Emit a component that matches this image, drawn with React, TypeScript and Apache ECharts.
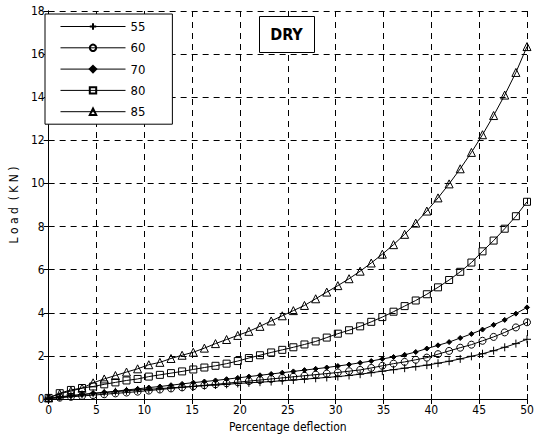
import React, { useEffect, useRef } from "react";
import * as echarts from "echarts";

const X = [0, 1.16, 2.33, 3.49, 4.65, 5.81, 6.98, 8.14, 9.3, 10.47, 11.63, 12.79, 13.95, 15.12, 16.28, 17.44, 18.6, 19.77, 20.93, 22.09, 23.26, 24.42, 25.58, 26.74, 27.91, 29.07, 30.23, 31.4, 32.56, 33.72, 34.88, 36.05, 37.21, 38.37, 39.53, 40.7, 41.86, 43.02, 44.19, 45.35, 46.51, 47.67, 48.84, 50];

const S55 = [0.03, 0.1, 0.16, 0.21, 0.26, 0.3, 0.34, 0.38, 0.42, 0.45, 0.48, 0.52, 0.55, 0.58, 0.62, 0.65, 0.68, 0.72, 0.75, 0.78, 0.81, 0.85, 0.88, 0.92, 0.96, 1.0, 1.04, 1.09, 1.15, 1.22, 1.29, 1.36, 1.43, 1.5, 1.57, 1.66, 1.75, 1.86, 1.98, 2.1, 2.24, 2.4, 2.57, 2.77];
const S60 = [0.02, 0.06, 0.1, 0.14, 0.18, 0.22, 0.26, 0.3, 0.34, 0.39, 0.44, 0.49, 0.54, 0.59, 0.64, 0.68, 0.73, 0.78, 0.83, 0.88, 0.93, 0.98, 1.03, 1.08, 1.13, 1.18, 1.23, 1.29, 1.35, 1.44, 1.54, 1.64, 1.72, 1.82, 1.92, 2.08, 2.23, 2.38, 2.52, 2.7, 2.88, 3.09, 3.32, 3.56];
const S70 = [0.02, 0.08, 0.14, 0.2, 0.26, 0.31, 0.36, 0.42, 0.47, 0.53, 0.58, 0.64, 0.7, 0.76, 0.81, 0.86, 0.92, 0.98, 1.04, 1.1, 1.16, 1.22, 1.28, 1.34, 1.4, 1.46, 1.53, 1.6, 1.68, 1.76, 1.86, 1.95, 2.05, 2.18, 2.34, 2.49, 2.64, 2.83, 3.02, 3.22, 3.44, 3.67, 3.96, 4.25];
const S80 = [0.05, 0.27, 0.42, 0.51, 0.58, 0.68, 0.77, 0.86, 0.93, 1.04, 1.12, 1.2, 1.28, 1.37, 1.46, 1.54, 1.64, 1.76, 1.9, 2.03, 2.16, 2.28, 2.4, 2.53, 2.67, 2.85, 3.03, 3.19, 3.37, 3.58, 3.8, 4.05, 4.31, 4.57, 4.86, 5.18, 5.52, 5.9, 6.33, 6.85, 7.35, 7.9, 8.48, 9.15];
const S85 = [0.05, 0.24, 0.37, 0.5, 0.75, 0.93, 1.09, 1.25, 1.4, 1.59, 1.7, 1.88, 2.03, 2.17, 2.36, 2.57, 2.76, 2.95, 3.14, 3.37, 3.62, 3.86, 4.1, 4.34, 4.65, 4.96, 5.26, 5.58, 5.93, 6.31, 6.72, 7.16, 7.64, 8.16, 8.72, 9.33, 9.98, 10.68, 11.44, 12.26, 13.15, 14.1, 15.15, 16.35];

const SERIES_NAMES = ["55", "60", "70", "80", "85"];
const SERIES_VALUES = [S55, S60, S70, S80, S85];

const FONT = "'Liberation Sans Narrow', 'Arial Narrow', 'DejaVu Sans Condensed', 'Liberation Sans', Arial, sans-serif";

export default function App() {
  const ref = useRef<HTMLDivElement>(null);
  useEffect(() => {
    document.body.style.margin = "0";
    if (!ref.current) return;
    const chart = echarts.init(ref.current, undefined, { renderer: "svg" });
    const symbols = [
      { symbol: "path://M5,0L5,10M0,5L10,5", size: 8, fill: "rgba(0,0,0,0)" },
      { symbol: "circle", size: 7, fill: "rgba(0,0,0,0)" },
      { symbol: "diamond", size: 5, fill: "#000" },
      { symbol: "rect", size: 7, fill: "rgba(0,0,0,0)" },
      { symbol: "triangle", size: 8, fill: "rgba(0,0,0,0)" },
    ];
    const series = SERIES_NAMES.map((name, i) => ({
      name,
      type: "line",
      data: X.map((x, j) => [x, SERIES_VALUES[i][j]]),
      symbol: symbols[i].symbol,
      symbolSize: symbols[i].size,
      showAllSymbol: true,
      lineStyle: { color: "#000", width: 1 },
      itemStyle: { color: symbols[i].fill, borderColor: "#000", borderWidth: 1 },
      emphasis: { disabled: true },
      xAxisIndex: 0,
      yAxisIndex: 0,
      z: 3,
    }));
    const axisLine = { show: true, lineStyle: { color: "#000", width: 1 } };
    const tick = { show: true, inside: true, length: 5, lineStyle: { color: "#000" } };
    const split = { show: true, lineStyle: { color: "#000", type: [6, 5] as any, width: 1 } };
    const label = { color: "#000", fontSize: 12, fontFamily: FONT };
    chart.setOption({
      animation: false,
      backgroundColor: "#fff",
      grid: { left: 43, right: 10, top: 11, bottom: 39, containLabel: false },
      legend: {
        orient: "vertical",
        left: 45,
        top: 14,
        data: SERIES_NAMES,
        itemWidth: 65,
        itemHeight: 8,
        itemGap: 8.3,
        padding: [6, 27, 6, 15],
        borderColor: "#000",
        borderWidth: 1,
        backgroundColor: "#fff",
        lineStyle: { width: 1, color: "#000" },
        textStyle: { color: "#000", fontSize: 13, fontFamily: FONT },
        selectedMode: false,
      },
      xAxis: [
        {
          type: "value", min: 0, max: 50, interval: 5, position: "bottom",
          axisLine, axisTick: tick, splitLine: split,
          axisLabel: { ...label, margin: 5 },
          name: "Percentage deflection", nameLocation: "middle", nameGap: 22,
          nameTextStyle: { color: "#000", fontSize: 12, fontFamily: FONT },
        },
        {
          type: "value", min: 0, max: 50, interval: 5, position: "top",
          axisLine, axisTick: tick, splitLine: { show: false }, axisLabel: { show: false },
        },
      ],
      yAxis: [
        {
          type: "value", min: 0, max: 18, interval: 2, position: "left",
          axisLine, axisTick: tick, splitLine: split,
          axisLabel: { ...label, margin: 4 },
          name: "L o a d  ( K N )", nameLocation: "middle", nameGap: 22, nameRotate: 90,
          nameTextStyle: { color: "#000", fontSize: 12, fontFamily: FONT },
        },
        {
          type: "value", min: 0, max: 18, interval: 2, position: "right",
          axisLine, axisTick: tick, splitLine: { show: false }, axisLabel: { show: false },
        },
      ],
      graphic: [
        {
          type: "rect", left: 259, top: 16, z: 10,
          shape: { width: 55, height: 36 },
          style: { fill: "#fff", stroke: "#000", lineWidth: 1 },
        },
        {
          type: "text", x: 286.5, y: 34, z: 11,
          style: {
            text: "DRY", fill: "#000", font: `bold 16px ${FONT}`,
            align: "center", verticalAlign: "middle",
          },
        },
      ],
      series,
    });
    return () => chart.dispose();
  }, []);
  return <div ref={ref} style={{ width: 537, height: 438 }} />;
}
